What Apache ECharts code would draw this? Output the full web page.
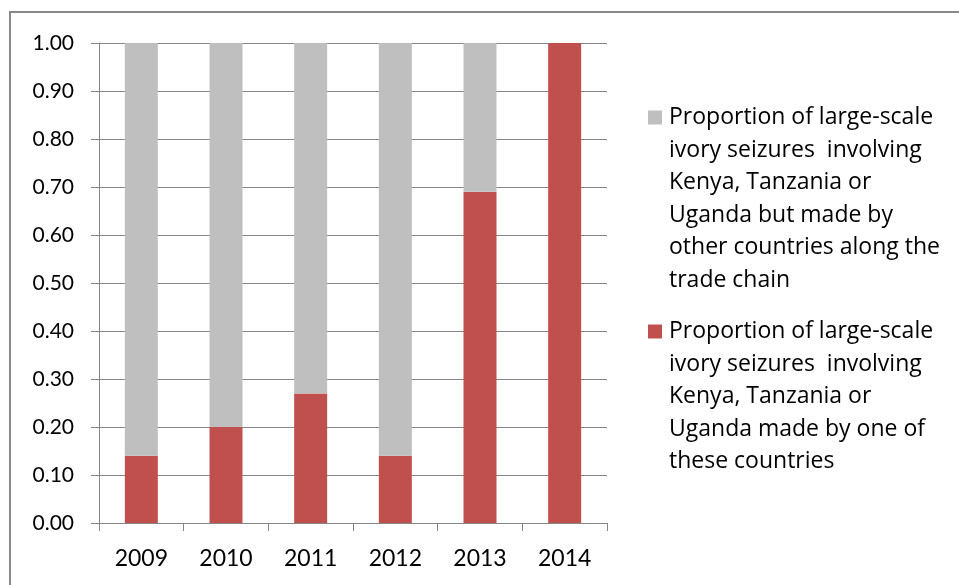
<!DOCTYPE html>
<html>
<head>
<meta charset="utf-8">
<script src="https://cdn.jsdelivr.net/npm/echarts@6/dist/echarts.min.js"></script>
<style>
  html, body { margin: 0; padding: 0; background: #ffffff; }
  #chart { width: 959px; height: 585px; }
</style>
</head>
<body>
<div id="chart"></div>
<script>
// Years on the category axis
const years = ['2009', '2010', '2011', '2012', '2013', '2014'];

// Share of large-scale seizures made by Kenya, Tanzania or Uganda themselves
const madeByTheseCountries = [0.14, 0.20, 0.27, 0.14, 0.69, 1.00];

// Share made by other countries along the trade chain
const madeByOtherCountries = [0.86, 0.80, 0.73, 0.86, 0.31, 0.00];

// Value axis tick settings
const yMin = 0;
const yMax = 1;
const yStep = 0.1;

// Legend wording, one entry per printed line
const othersLines = [
  'Proportion of large-scale',
  'ivory seizures  involving',
  'Kenya, Tanzania or',
  'Uganda but made by',
  'other countries along the',
  'trade chain'
];
const theseLines = [
  'Proportion of large-scale',
  'ivory seizures  involving',
  'Kenya, Tanzania or',
  'Uganda made by one of',
  'these countries'
];

const othersName = othersLines.join(' ');
const theseName = theseLines.join(' ');

const GREY = '#BFBFBF';
const RED = '#C0504D';
const LINE = '#868686';
const FONT = 'Lato';
const LEGEND_FONT = 'Open Sans';

const chart = echarts.init(document.getElementById('chart'), null, { renderer: 'canvas' });

function legendText(name) {
  const lines = name === othersName ? othersLines : theseLines;
  const sq = name === othersName ? 'sqG' : 'sqR';
  return lines.map((l, i) => (i === 0 ? '{' + sq + '|}{sp|}' : '{ind|}') + '{t|' + l + '}').join('\n');
}

chart.setOption({
  animation: false,
  backgroundColor: '#ffffff',
  graphic: [{
    type: 'rect',
    silent: true,
    shape: { x: 10, y: 12, width: 1200, height: 900 },
    style: { fill: 'none', stroke: '#898989', lineWidth: 2 }
  }],
  grid: { left: 99, right: 352, top: 43, bottom: 62, containLabel: false },
  legend: {
    orient: 'vertical',
    left: 643,
    top: 106,
    padding: 0,
    icon: 'none',
    itemWidth: 0,
    itemHeight: 14,
    itemGap: 28,
    selectedMode: false,
    data: [othersName, theseName],
    formatter: legendText,
    textStyle: {
      rich: {
        sqG: { width: 14, height: 14, backgroundColor: GREY },
        sqR: { width: 14, height: 14, backgroundColor: RED },
        sp: { width: 7 },
        ind: { width: 21 },
        t: { fontFamily: LEGEND_FONT, fontSize: 23, lineHeight: 32.6, color: '#000000' }
      }
    }
  },
  xAxis: {
    type: 'category',
    data: years,
    boundaryGap: true,
    axisLine: { show: true, lineStyle: { color: LINE, width: 1 } },
    axisTick: { show: true, length: 8, alignWithLabel: false, lineStyle: { color: LINE } },
    axisLabel: { fontFamily: FONT, fontSize: 23, color: '#000000', margin: 24 },
    splitLine: { show: false }
  },
  yAxis: {
    type: 'value',
    min: yMin,
    max: yMax,
    interval: yStep,
    axisLine: { show: true, lineStyle: { color: LINE, width: 1 } },
    axisTick: { show: true, length: 8, inside: false, lineStyle: { color: LINE } },
    axisLabel: {
      fontFamily: FONT, fontSize: 21, color: '#000000', margin: 25,
      formatter: v => v.toFixed(2)
    },
    splitLine: { show: true, lineStyle: { color: LINE, width: 1 } }
  },
  series: [
    {
      name: theseName,
      type: 'bar',
      stack: 'share',
      barWidth: 33,
      itemStyle: { color: RED },
      data: madeByTheseCountries
    },
    {
      name: othersName,
      type: 'bar',
      stack: 'share',
      barWidth: 33,
      itemStyle: { color: GREY },
      data: madeByOtherCountries
    }
  ]
});
</script>
</body>
</html>
